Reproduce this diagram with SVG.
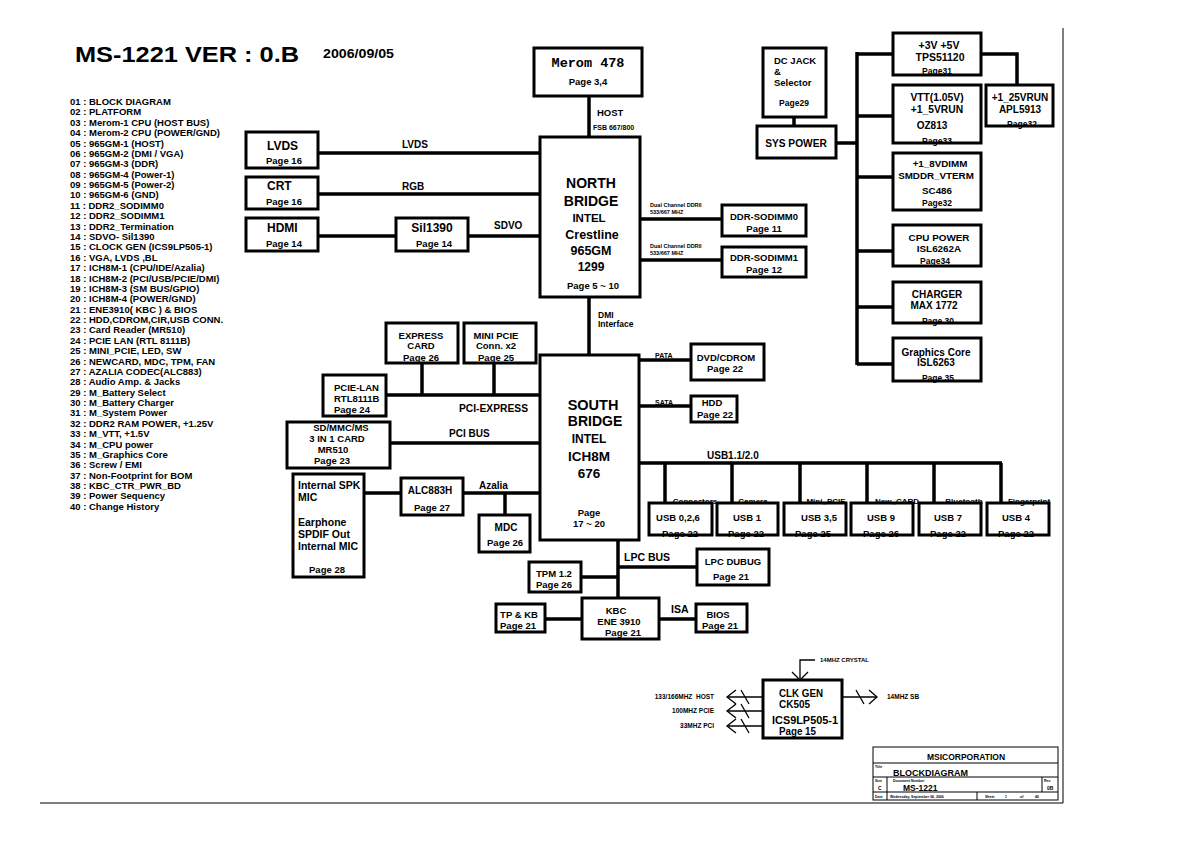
<svg xmlns="http://www.w3.org/2000/svg" width="1191" height="842" viewBox="0 0 1191 842">
<style>
text{font-family:"Liberation Sans",Arial,sans-serif;font-weight:bold;fill:#000}
.bx{fill:#fff;stroke:#000;stroke-width:3}
.bn{fill:none;stroke:#000;stroke-width:3}
.w{stroke:#000;stroke-width:3.5;fill:none}
.tw{stroke:#000;stroke-width:1.3;fill:none}
.fr{stroke:#000;stroke-width:1;fill:none}
.m{text-anchor:middle}
.e{text-anchor:end}
.l{font-size:9.5px;white-space:pre}
.s{font-size:9.5px}
.tiny{font-size:5.5px}
.mono{font-family:"Liberation Mono","Courier New",monospace}
</style>
<rect width="1191" height="842" fill="#fff"/>
<text x="75" y="62" font-size="22.5" textLength="224" lengthAdjust="spacingAndGlyphs">MS-1221  VER : 0.B</text>
<text x="323" y="58" font-size="12" textLength="71" lengthAdjust="spacingAndGlyphs">2006/09/05</text>
<g id="pagelist" class="l">
<text x="70" y="105">01 : BLOCK DIAGRAM</text>
<text x="70" y="115.4">02 : PLATFORM</text>
<text x="70" y="125.8">03 : Merom-1 CPU (HOST BUS)</text>
<text x="70" y="136.1">04 : Merom-2 CPU (POWER/GND)</text>
<text x="70" y="146.5">05 : 965GM-1 (HOST)</text>
<text x="70" y="156.9">06 : 965GM-2 (DMI / VGA)</text>
<text x="70" y="167.3">07 : 965GM-3 (DDR)</text>
<text x="70" y="177.7">08 : 965GM-4 (Power-1)</text>
<text x="70" y="188">09 : 965GM-5 (Power-2)</text>
<text x="70" y="198.4">10 : 965GM-6 (GND)</text>
<text x="70" y="208.8">11 : DDR2_SODIMM0</text>
<text x="70" y="219.2">12 : DDR2_SODIMM1</text>
<text x="70" y="229.6">13 : DDR2_Termination</text>
<text x="70" y="239.9">14 : SDVO- Sil1390</text>
<text x="70" y="250.3">15 : CLOCK GEN (ICS9LP505-1)</text>
<text x="70" y="260.7">16 : VGA, LVDS ,BL</text>
<text x="70" y="271.1">17 : ICH8M-1 (CPU/IDE/Azalia)</text>
<text x="70" y="281.5">18 : ICH8M-2 (PCI/USB/PCIE/DMI)</text>
<text x="70" y="291.8">19 : ICH8M-3 (SM BUS/GPIO)</text>
<text x="70" y="302.2">20 : ICH8M-4 (POWER/GND)</text>
<text x="70" y="312.6">21 : ENE3910( KBC ) &amp; BIOS</text>
<text x="70" y="323">22 : HDD,CDROM,CIR,USB CONN.</text>
<text x="70" y="333.4">23 : Card Reader (MR510)</text>
<text x="70" y="343.7">24 : PCIE  LAN (RTL 8111B)</text>
<text x="70" y="354.1">25 : MINI_PCIE, LED, SW</text>
<text x="70" y="364.5">26 : NEWCARD, MDC, TPM, FAN</text>
<text x="70" y="374.9">27 : AZALIA CODEC(ALC883)</text>
<text x="70" y="385.3">28 : Audio Amp. &amp; Jacks</text>
<text x="70" y="395.6">29 : M_Battery Select</text>
<text x="70" y="406">30 : M_Battery Charger</text>
<text x="70" y="416.4">31 : M_System Power</text>
<text x="70" y="426.8">32 : DDR2 RAM POWER, +1.25V</text>
<text x="70" y="437.2">33 : M_VTT, +1.5V</text>
<text x="70" y="447.5">34 : M_CPU power</text>
<text x="70" y="457.9">35 : M_Graphics Core</text>
<text x="70" y="468.3">36 : Screw / EMI</text>
<text x="70" y="478.7">37 : Non-Footprint for BOM</text>
<text x="70" y="489.1">38 : KBC_CTR_PWR_BD</text>
<text x="70" y="499.4">39 : Power Sequency</text>
<text x="70" y="509.8">40 : Change History</text>
</g>

<g id="frame" class="fr">
<line x1="1063" y1="28" x2="1063" y2="803"/>
<line x1="40" y1="803" x2="1063" y2="803"/>
</g>

<g id="connectors">
<line class="w" x1="589" y1="96" x2="589" y2="137"/>
<line class="w" x1="318" y1="153" x2="540" y2="153"/>
<line class="w" x1="318" y1="194" x2="540" y2="194"/>
<line class="w" x1="318" y1="236" x2="396" y2="236"/>
<line class="w" x1="468" y1="236" x2="540" y2="236"/>
<line class="w" x1="640" y1="219" x2="722" y2="219"/>
<line class="w" x1="640" y1="260" x2="722" y2="260"/>
<line class="w" x1="589" y1="297" x2="589" y2="355"/>
<line class="w" x1="386" y1="395" x2="540" y2="395"/>
<line class="w" x1="422" y1="363" x2="422" y2="395"/>
<line class="w" x1="494" y1="363" x2="494" y2="395"/>
<line class="w" x1="390" y1="443" x2="540" y2="443"/>
<line class="w" x1="364" y1="493" x2="401" y2="493"/>
<line class="w" x1="463" y1="493" x2="540" y2="493"/>
<line class="w" x1="505" y1="493" x2="505" y2="515"/>
<line class="w" x1="639" y1="360" x2="691" y2="360"/>
<line class="w" x1="639" y1="406" x2="691" y2="406"/>
<line class="w" x1="639" y1="463" x2="1002" y2="463"/>
<line class="w" x1="665" y1="463" x2="665" y2="503"/>
<line class="w" x1="732" y1="463" x2="732" y2="503"/>
<line class="w" x1="800" y1="463" x2="800" y2="503"/>
<line class="w" x1="867" y1="463" x2="867" y2="503"/>
<line class="w" x1="934" y1="463" x2="934" y2="503"/>
<line class="w" x1="1001" y1="463" x2="1001" y2="503"/>
<line class="w" x1="618" y1="540" x2="618" y2="597"/>
<line class="w" x1="618" y1="567" x2="697" y2="567"/>
<line class="w" x1="581" y1="577" x2="618" y2="577"/>
<line class="w" x1="545" y1="619" x2="582" y2="619"/>
<line class="w" x1="660" y1="619" x2="696" y2="619"/>
<line class="w" x1="794" y1="117" x2="794" y2="126"/>
<line class="w" x1="836" y1="143" x2="857" y2="143"/>
<line class="w" x1="857" y1="52" x2="857" y2="365"/>
<line class="w" x1="857" y1="54" x2="893" y2="54"/>
<polyline class="w" points="981,54 1017,54 1017,85"/>
<line class="w" x1="857" y1="116" x2="893" y2="116"/>
<line class="w" x1="857" y1="177" x2="893" y2="177"/>
<line class="w" x1="857" y1="251" x2="893" y2="251"/>
<line class="w" x1="857" y1="307" x2="893" y2="307"/>
<line class="w" x1="857" y1="364" x2="893" y2="364"/>
<g class="tw">
<polyline points="815,660 800,660 800,680"/>
<polyline points="792,672 800,680 808,672"/>
<line x1="727" y1="697" x2="763" y2="697"/>
<line x1="727" y1="711" x2="763" y2="711"/>
<line x1="727" y1="726" x2="763" y2="726"/>
<polyline points="736,690 727,697 736,704"/>
<polyline points="736,704 727,711 736,718"/>
<polyline points="736,719 727,726 736,733"/>
<line x1="741" y1="690" x2="749" y2="704"/>
<line x1="741" y1="704" x2="749" y2="718"/>
<line x1="741" y1="719" x2="749" y2="733"/>
<line x1="842" y1="697" x2="877" y2="697"/>
<polyline points="869,690 877,697 869,704"/>
<line x1="856" y1="690" x2="864" y2="704"/>
</g>
</g>

<g id="labels">
<text x="597" y="116" class="s">HOST</text>
<text x="593" y="130" font-size="7">FSB 667/800</text>
<text x="402" y="148" font-size="10">LVDS</text>
<text x="402" y="190" font-size="10">RGB</text>
<text x="494" y="229" font-size="10">SDVO</text>
<text x="650" y="207" class="tiny">Dual Channel DDRII</text>
<text x="650" y="214" class="tiny">533/667 MHZ</text>
<text x="650" y="248" class="tiny">Dual Channel DDRII</text>
<text x="650" y="255" class="tiny">533/667 MHZ</text>
<text x="598" y="318" font-size="8.5">DMI</text>
<text x="598" y="327" font-size="8.5">Interface</text>
<text x="459" y="412" font-size="10" textLength="69" lengthAdjust="spacingAndGlyphs">PCI-EXPRESS</text>
<text x="449" y="437" font-size="10">PCI BUS</text>
<text x="479" y="489" font-size="10">Azalia</text>
<text x="655" y="358" font-size="7">PATA</text>
<text x="655" y="405" font-size="7">SATA</text>
<text x="707" y="459" font-size="10">USB1.1/2.0</text>
<text x="624" y="561" font-size="10.5">LPC BUS</text>
<text x="671" y="613" font-size="10.5">ISA</text>
<text x="820" y="662" font-size="6">14MHZ CRYSTAL</text>
<text x="714" y="699" font-size="6.5" class="e" style="white-space:pre">133/166MHZ  HOST</text>
<text x="714" y="713" font-size="6.5" class="e">100MHZ PCIE</text>
<text x="714" y="728" font-size="6.5" class="e">33MHZ PCI</text>
<text x="887" y="699" font-size="6.5">14MHZ SB</text>
</g>

<g id="merom"><rect class="bx" x="534" y="48" width="108" height="48"/>
<text x="588" y="67" class="m mono" font-size="13.5">Merom 478</text>
<text x="588" y="85" class="m s">Page 3,4</text></g>

<g id="northbridge"><rect class="bx" x="540" y="137" width="100" height="160"/>
<text x="591" y="188" class="m" font-size="14">NORTH</text>
<text x="591" y="206" class="m" font-size="14">BRIDGE</text>
<text x="589" y="222" class="m" font-size="11.5">INTEL</text>
<text x="592" y="239" class="m" font-size="12.5">Crestline</text>
<text x="591" y="255" class="m" font-size="12.5">965GM</text>
<text x="591" y="271" class="m" font-size="12">1299</text>
<text x="593" y="289" class="m s">Page 5 ~ 10</text></g>

<g id="lvds"><rect class="bx" x="246" y="132" width="72" height="36"/>
<text x="267" y="150" font-size="12">LVDS</text>
<text x="266" y="164" class="s">Page 16</text></g>
<g id="crt"><rect class="bx" x="246" y="177" width="72" height="32"/>
<text x="267" y="190" font-size="12">CRT</text>
<text x="266" y="205" class="s">Page 16</text></g>
<g id="hdmi"><rect class="bx" x="246" y="218" width="72" height="33"/>
<text x="267" y="232" font-size="12">HDMI</text>
<text x="266" y="247" class="s">Page 14</text></g>
<g id="sil1390"><rect class="bx" x="396" y="218" width="72" height="33"/>
<text x="432" y="232" class="m" font-size="12">Sil1390</text>
<text x="434" y="247" class="m s">Page 14</text></g>

<g id="sodimm0"><rect class="bx" x="722" y="205" width="84" height="31"/>
<text x="764" y="220" class="m s">DDR-SODIMM0</text>
<text x="764" y="232" class="m s">Page 11</text></g>
<g id="sodimm1"><rect class="bx" x="722" y="247" width="84" height="30"/>
<text x="764" y="261" class="m s">DDR-SODIMM1</text>
<text x="764" y="273" class="m s">Page 12</text></g>

<g id="southbridge"><rect class="bx" x="540" y="355" width="99" height="185"/>
<text x="593" y="410" class="m" font-size="14.5">SOUTH</text>
<text x="595" y="426" class="m" font-size="14">BRIDGE</text>
<text x="589" y="443" class="m" font-size="12">INTEL</text>
<text x="589" y="461" class="m" font-size="13.5">ICH8M</text>
<text x="589" y="478" class="m" font-size="13.5">676</text>
<text x="589" y="516" class="m s">Page</text>
<text x="589" y="527" class="m s">17 ~ 20</text></g>

<g id="expresscard"><rect class="bx" x="386" y="323" width="72" height="40"/>
<text x="421" y="339" class="m s">EXPRESS</text>
<text x="421" y="349" class="m s">CARD</text>
<text x="421" y="361" class="m s">Page 26</text></g>
<g id="minipcie"><rect class="bx" x="464" y="323" width="72" height="40"/>
<text x="496" y="339" class="m s">MINI PCIE</text>
<text x="496" y="349" class="m s">Conn. x2</text>
<text x="496" y="361" class="m s">Page 25</text></g>
<g id="pcielan"><rect class="bx" x="323" y="375" width="63" height="41"/>
<text x="334" y="391" class="s">PCIE-LAN</text>
<text x="334" y="402" class="s">RTL8111B</text>
<text x="334" y="413" class="s">Page 24</text></g>
<g id="cardreader"><rect class="bx" x="287" y="422" width="103" height="46"/>
<text x="341" y="431" class="m s">SD/MMC/MS</text>
<text x="337" y="442" class="m s">3 IN 1 CARD</text>
<text x="333" y="453" class="m s">MR510</text>
<text x="332" y="464" class="m s">Page 23</text></g>
<g id="audiojacks"><rect class="bx" x="293" y="474" width="71" height="103"/>
<text x="298" y="489" font-size="10.5">Internal SPK</text>
<text x="298" y="501" font-size="10.5">MIC</text>
<text x="298" y="526" font-size="10.5">Earphone</text>
<text x="298" y="538" font-size="10.5">SPDIF Out</text>
<text x="298" y="550" font-size="10.5">Internal MIC</text>
<text x="327" y="573" class="m s">Page 28</text></g>
<g id="alc883h"><rect class="bx" x="401" y="478" width="62" height="37"/>
<text x="430" y="494" class="m" font-size="10">ALC883H</text>
<text x="432" y="511" class="m s">Page 27</text></g>
<g id="mdc"><rect class="bx" x="479" y="515" width="51" height="37"/>
<text x="506" y="531" class="m" font-size="10">MDC</text>
<text x="505" y="546" class="m s">Page 26</text></g>

<g id="dvd"><rect class="bx" x="691" y="344" width="73" height="36"/>
<text x="726" y="361" class="m s">DVD/CDROM</text>
<text x="725" y="372" class="m s">Page 22</text></g>
<g id="hdd"><rect class="bx" x="691" y="396" width="46" height="26"/>
<text x="712" y="406" class="m s">HDD</text>
<text x="715" y="418" class="m s">Page 22</text></g>

<g id="usb0"><text x="695" y="503.5" class="m" font-size="8">Connectors</text><text x="678" y="521" class="m s">USB 0,2,6</text><text x="680" y="537" class="m s">Page 22</text><rect class="bn" x="649" y="503" width="63" height="32"/></g>
<g id="usb1"><text x="753" y="503.5" class="m" font-size="8">Camera</text><text x="747" y="521" class="m s">USB 1</text><text x="746" y="537" class="m s">Page 22</text><rect class="bn" x="717" y="503" width="61" height="32"/></g>
<g id="usb35"><text x="826" y="503.5" class="m" font-size="8">Mini_PCIE</text><text x="819" y="521" class="m s">USB 3,5</text><text x="813" y="537" class="m s">Page 25</text><rect class="bn" x="784" y="503" width="62" height="32"/></g>
<g id="usb9"><text x="897" y="503.5" class="m" font-size="8">New_CARD</text><text x="881" y="521" class="m s">USB 9</text><text x="881" y="537" class="m s">Page 26</text><rect class="bn" x="851" y="503" width="62" height="32"/></g>
<g id="usb7"><text x="964" y="503.5" class="m" font-size="8">Bluetooth</text><text x="948" y="521" class="m s">USB 7</text><text x="948" y="537" class="m s">Page 22</text><rect class="bn" x="919" y="503" width="62" height="32"/></g>
<g id="usb4"><text x="1029" y="503.5" class="m" font-size="8">Fingerprint</text><text x="1016" y="521" class="m s">USB 4</text><text x="1016" y="537" class="m s">Page 22</text><rect class="bn" x="987" y="503" width="62" height="32"/></g>

<g id="tpm"><rect class="bx" x="529" y="562" width="52" height="30"/>
<text x="536" y="577" class="s">TPM 1.2</text>
<text x="536" y="588" class="s">Page 26</text></g>
<g id="lpcdebug"><rect class="bx" x="697" y="549" width="72" height="36"/>
<text x="733" y="565" class="m s">LPC DUBUG</text>
<text x="731" y="580" class="m s">Page 21</text></g>
<g id="kbc"><rect class="bx" x="582" y="598" width="77" height="41"/>
<text x="616" y="614" class="m s">KBC</text>
<text x="619" y="625" class="m s">ENE 3910</text>
<text x="623" y="636" class="m s">Page 21</text></g>
<g id="tpkb"><rect class="bx" x="496" y="604" width="49" height="28"/>
<text x="519" y="618" class="m s">TP &amp; KB</text>
<text x="518" y="629" class="m s">Page 21</text></g>
<g id="bios"><rect class="bx" x="696" y="604" width="51" height="28"/>
<text x="718" y="618" class="m s">BIOS</text>
<text x="720" y="629" class="m s">Page 21</text></g>

<g id="dcjack"><rect class="bx" x="763" y="48" width="63" height="69"/>
<text x="774" y="64" font-size="9.5">DC JACK</text>
<text x="774" y="75" font-size="9.5">&amp;</text>
<text x="774" y="86" font-size="9.5">Selector</text>
<text x="794" y="106" class="m" font-size="8.5">Page29</text></g>
<g id="syspower"><rect class="bx" x="757" y="126" width="79" height="32"/>
<text x="796" y="147" class="m" font-size="10.2">SYS POWER</text></g>
<g id="p35v"><text x="939" y="49" class="m" font-size="10.5">+3V +5V</text>
<text x="940" y="61" class="m" font-size="10.5">TPS51120</text>
<text x="937" y="74" class="m" font-size="8.5">Page31</text>
<rect class="bn" x="893" y="33" width="88" height="42"/></g>
<g id="vtt"><text x="937" y="101" class="m" font-size="10.3">VTT(1.05V)</text>
<text x="937" y="113" class="m" font-size="10.3">+1_5VRUN</text>
<text x="932" y="129" class="m" font-size="10">OZ813</text>
<text x="937" y="144" class="m" font-size="8.5">Page33</text>
<rect class="bn" x="893" y="85" width="88" height="58"/></g>
<g id="p125"><text x="1020" y="101" class="m" font-size="10">+1_25VRUN</text>
<text x="1020" y="113" class="m" font-size="10">APL5913</text>
<text x="1022" y="127" class="m" font-size="8.5">Page32</text>
<rect class="bn" x="986" y="85" width="67" height="41"/></g>
<g id="dimm"><text x="940" y="167" class="m" font-size="9.8">+1_8VDIMM</text>
<text x="936" y="179" class="m" font-size="9.8">SMDDR_VTERM</text>
<text x="937" y="194" class="m" font-size="9.8">SC486</text>
<text x="937" y="206" class="m" font-size="8.5">Page32</text>
<rect class="bn" x="893" y="153" width="88" height="57"/></g>
<g id="cpupower"><text x="939" y="241" class="m" font-size="9.9">CPU POWER</text>
<text x="939" y="252" class="m" font-size="9.9">ISL6262A</text>
<text x="935" y="264" class="m" font-size="8.5">Page34</text>
<rect class="bn" x="893" y="225" width="88" height="41"/></g>
<g id="charger"><text x="937" y="298" class="m" font-size="10">CHARGER</text>
<text x="934" y="309" class="m" font-size="10">MAX 1772</text>
<text x="938" y="324" class="m" font-size="8.5">Page 30</text>
<rect class="bn" x="893" y="282" width="88" height="41"/></g>
<g id="gfxcore"><text x="936" y="356" class="m" font-size="10">Graphics Core</text>
<text x="936" y="366" class="m" font-size="10">ISL6263</text>
<text x="938" y="381" class="m" font-size="8.5">Page 35</text>
<rect class="bn" x="893" y="338" width="88" height="43"/></g>

<g id="clkgen"><rect class="bx" x="763" y="680" width="79" height="58"/>
<text x="779" y="697" font-size="11.5" textLength="44" lengthAdjust="spacingAndGlyphs">CLK GEN</text>
<text x="779" y="708" font-size="11" textLength="31" lengthAdjust="spacingAndGlyphs">CK505</text>
<text x="772" y="724" font-size="11.5" textLength="66" lengthAdjust="spacingAndGlyphs">ICS9LP505-1</text>
<text x="779" y="735" font-size="11" textLength="37" lengthAdjust="spacingAndGlyphs">Page 15</text></g>

<g id="titleblock">
<rect x="873" y="747" width="185" height="53" fill="none" stroke="#000" stroke-width="1"/>
<g class="fr">
<line x1="873" y1="763" x2="1058" y2="763"/>
<line x1="873" y1="777" x2="1058" y2="777"/>
<line x1="873" y1="792" x2="1058" y2="792"/>
<line x1="887" y1="777" x2="887" y2="800"/>
<line x1="1042" y1="777" x2="1042" y2="792"/>
<line x1="977" y1="792" x2="977" y2="800"/>
</g>
<text x="966" y="760" class="m" font-size="8.5">MSICORPORATION</text>
<text x="875" y="768" font-size="3.5" font-weight="normal">Title</text>
<text x="893" y="776" font-size="9">BLOCKDIAGRAM</text>
<text x="875" y="782" font-size="3.5" font-weight="normal">Size</text>
<text x="893" y="782" font-size="3.5" font-weight="normal">Document Number</text>
<text x="1044" y="782" font-size="3.5" font-weight="normal">Rev</text>
<text x="878" y="790" font-size="5" font-weight="normal">C</text>
<text x="903" y="791" font-size="8.5">MS-1221</text>
<text x="1047" y="790" font-size="5" font-weight="normal">0B</text>
<text x="875" y="798" font-size="3.5" font-weight="normal">Date</text>
<text x="890" y="798" font-size="3.5" font-weight="normal">Wednesday, September 06, 2006</text>
<text x="985" y="798" font-size="3.5" font-weight="normal">Sheet</text>
<text x="1005" y="798" font-size="3.5" font-weight="normal">1</text>
<text x="1020" y="798" font-size="3.5" font-weight="normal">of</text>
<text x="1035" y="798" font-size="3.5" font-weight="normal">40</text>
</g>
</svg>
